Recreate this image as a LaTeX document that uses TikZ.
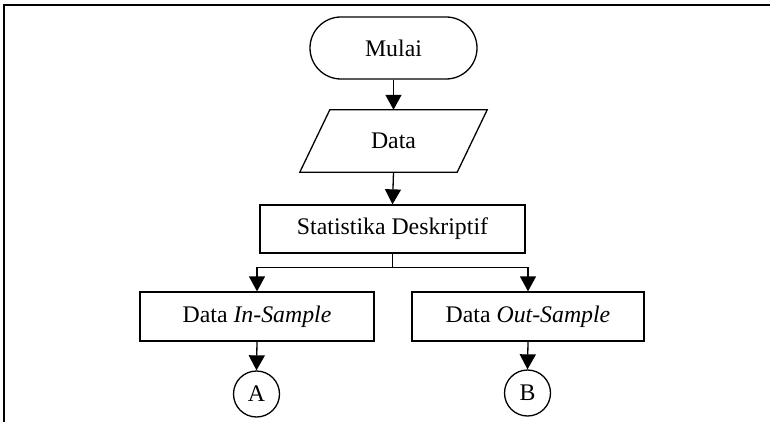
\documentclass[tikz,border=0pt]{standalone}
\usepackage{fontspec}
\setmainfont{Liberation Serif}
\usetikzlibrary{arrows.meta,calc}

\tikzset{
  flowline/.style={line width=1.3pt, draw=black},
  flowarrow/.style={flowline, -{Triangle[width=16pt,length=15pt]}},
  procbox/.style={draw=black, line width=1.3pt, rectangle, inner sep=0pt,
    minimum height=49pt, font=\fontsize{23.8}{28}\selectfont},
  termbox/.style={draw=black, line width=1.3pt, rectangle, rounded corners=31pt,
    inner sep=0pt, minimum width=167pt, minimum height=62pt,
    font=\fontsize{23.8}{28}\selectfont},
  iobox/.style={rectangle, inner sep=0pt, minimum width=157pt, minimum height=62pt,
    font=\fontsize{23.8}{28}\selectfont},
  connector/.style={draw=black, line width=1.3pt, circle, inner sep=0pt,
    minimum size=46pt, font=\fontsize{23.8}{28}\selectfont},
}

\begin{document}
\begin{tikzpicture}[x=1pt, y=-1pt]
  \useasboundingbox (0,0) rectangle (770,422);

  % page frame
  \draw[line width=1.5pt] (4,422) -- (4,5) -- (770,5);

  % flowchart nodes
  \node[termbox] (mulai) at (393.5,48) {Mulai};
  \node[iobox] (data) at (393.5,141) {Data};
  \draw[flowline] ([xshift=15pt]data.north west) -- ([xshift=15pt]data.north east)
    -- ([xshift=-15pt]data.south east) -- ([xshift=-15pt]data.south west) -- cycle;
  \node[procbox, minimum width=265pt, minimum height=48pt] (stat) at (392.5,229) {Statistika Deskriptif};
  \node[procbox, minimum width=234pt] (insample) at (257,316.5) {Data \textit{In-Sample}};
  \node[procbox, minimum width=232pt] (outsample) at (528,316.5) {Data \textit{Out-Sample}};
  \node[connector] (A) at (256.5,394) {A};
  \node[connector] (B) at (527.5,393) {B};

  % connectors
  \draw[flowarrow] (mulai.south) -- (data.north);
  \draw[flowarrow] (data.south) -- (stat.north);
  \coordinate (split) at ($(stat.south)+(0,14)$);
  \draw[flowline] (stat.south) -- (split);
  \draw[flowarrow] (split) -| (insample.north);
  \draw[flowarrow] (split) -| (outsample.north);
  \draw[flowarrow] (insample.south) -- (A.north);
  \draw[flowarrow] (outsample.south) -- (B.north);
\end{tikzpicture}
\end{document}
